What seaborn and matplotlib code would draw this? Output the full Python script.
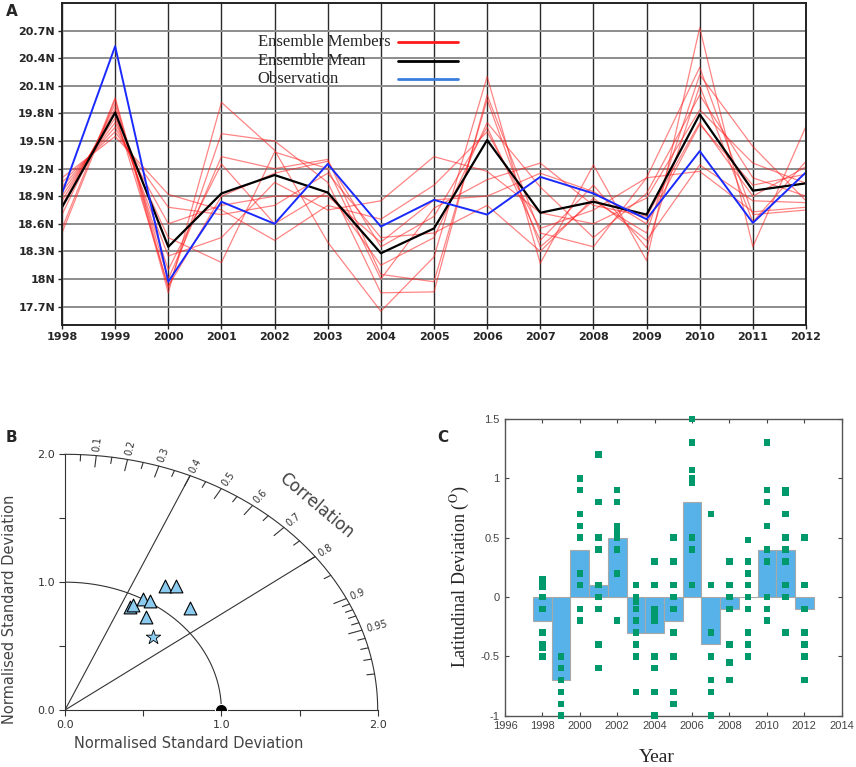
import numpy as np
import pandas as pd
import matplotlib
matplotlib.use("Agg")
import matplotlib.pyplot as plt
import seaborn as sns

sns.set_style("white")
plt.rcParams['font.family'] = ['DejaVu Sans']
plt.rcParams['mathtext.fontset'] = 'stix'

# ---------------- data: panel A (latitude of the track, deg N) ----------------
years = list(range(1998, 2013))
observation = [18.93, 20.53, 17.97, 18.84, 18.60, 19.25, 18.57, 18.86, 18.70, 19.11,
               18.93, 18.65, 19.39, 18.61, 19.16]
ensemble_mean = [18.78, 19.81, 18.35, 18.93, 19.13, 18.94, 18.28, 18.55, 19.51, 18.72,
                 18.84, 18.70, 19.79, 18.96, 19.04]
member_01 = [18.50, 19.95, 17.85, 19.92, 19.40, 18.40, 17.65, 18.24, 20.20, 18.17, 19.24, 18.20, 20.73, 18.35, 19.66]
member_02 = [18.55, 19.97, 17.90, 19.58, 19.50, 19.05, 17.85, 17.86, 20.00, 18.50, 18.35, 19.10, 20.30, 18.70, 18.75]
member_03 = [18.70, 19.90, 18.00, 19.33, 19.20, 19.30, 18.05, 17.97, 19.95, 18.35, 18.85, 18.50, 20.22, 19.44, 18.85]
member_04 = [18.80, 19.85, 18.10, 19.25, 18.60, 18.95, 18.15, 18.45, 19.70, 19.00, 18.45, 18.93, 20.00, 19.10, 18.90]
member_05 = [18.85, 19.80, 17.92, 18.90, 19.15, 19.28, 18.35, 18.68, 19.65, 18.42, 19.02, 18.34, 20.10, 18.62, 19.28]
member_06 = [18.90, 19.75, 18.25, 18.45, 19.05, 18.75, 18.85, 19.33, 19.17, 18.72, 18.60, 18.88, 19.84, 19.26, 19.04]
member_07 = [18.95, 19.70, 18.45, 18.18, 19.38, 19.20, 18.00, 18.77, 19.08, 19.26, 18.80, 18.68, 19.70, 18.90, 19.22]
member_08 = [19.00, 19.65, 18.60, 18.80, 18.90, 18.90, 18.40, 18.86, 18.90, 19.15, 18.95, 18.60, 19.68, 19.02, 19.14]
member_09 = [19.05, 19.60, 18.78, 18.70, 18.80, 19.15, 18.45, 18.50, 18.80, 18.30, 18.88, 18.42, 19.24, 18.85, 18.83]
member_10 = [19.10, 19.55, 18.92, 18.75, 18.42, 18.80, 18.65, 19.02, 19.60, 18.55, 18.75, 19.10, 19.17, 18.73, 18.78]
lat_ticks = [17.7, 18.0, 18.3, 18.6, 18.9, 19.2, 19.5, 19.8, 20.1, 20.4, 20.7]

# ---------------- data: panel B (Taylor diagram) ----------------
member_std = [0.91, 0.93, 1.00, 1.01, 1.16, 1.20, 1.13, 0.89]
member_corr = [0.46, 0.47, 0.50, 0.54, 0.55, 0.59, 0.71, 0.58]
mean_std = [0.80]
mean_corr = [0.70]
corr_major = [0.1, 0.2, 0.3, 0.4, 0.5, 0.6, 0.7, 0.8, 0.9, 0.95]
corr_minor = [0.05, 0.15, 0.25, 0.35, 0.45, 0.55, 0.65, 0.75, 0.85,
              0.91, 0.92, 0.93, 0.94, 0.96, 0.97, 0.98, 0.99]

# ---------------- data: panel C (latitudinal deviation, deg) ----------------
mean_dev = [-0.2, -0.7, 0.4, 0.1, 0.5, -0.3, -0.3, -0.2, 0.8, -0.4, -0.1, 0.0, 0.4, 0.4, -0.1]
member_dev = [
    [0.15, 0.12, 0.09, 0.0, -0.1, -0.3, -0.4, -0.43, -0.5],
    [-0.5, -0.6, -0.7, -0.8, -0.9, -1.0],
    [1.0, 0.9, 0.7, 0.6, 0.5, 0.2, 0.1, -0.1, -0.2],
    [1.2, 0.8, 0.5, 0.4, 0.1, 0.0, -0.1, -0.4, -0.6],
    [0.9, 0.8, 0.6, 0.55, 0.5, 0.4, 0.2, -0.2],
    [0.1, 0.0, -0.04, -0.1, -0.2, -0.3, -0.4, -0.5, -0.8],
    [0.3, 0.1, -0.1, -0.14, -0.17, -0.2, -0.5, -0.6, -0.8, -1.0],
    [0.5, 0.3, 0.1, 0.0, -0.1, -0.3, -0.5, -0.8, -0.9],
    [1.5, 1.3, 1.07, 1.0, 0.96, 0.5, 0.4, 0.1],
    [0.7, 0.1, -0.3, -0.5, -0.7, -0.8, -1.0],
    [0.3, 0.1, 0.0, -0.1, -0.4, -0.55, -0.7],
    [0.48, 0.3, 0.2, 0.1, 0.0, -0.1, -0.3, -0.4, -0.5],
    [1.3, 0.9, 0.8, 0.6, 0.4, 0.3, 0.0, -0.1, -0.2],
    [0.9, 0.88, 0.7, 0.5, 0.4, 0.3, 0.1, 0.0, -0.3],
    [0.5, 0.1, -0.1, -0.3, -0.4, -0.5, -0.7],
]

W, H = 856, 767
fig = plt.figure(figsize=(W / 100, H / 100), dpi=100)

# ======================= Panel A =======================
axA = fig.add_axes([62 / W, 1 - 325 / H, 744 / W, 322 / H])
members = [member_01, member_02, member_03, member_04, member_05,
           member_06, member_07, member_08, member_09, member_10]
df_members = pd.DataFrame({
    'year': years * len(members),
    'lat': np.concatenate(members),
    'member': np.repeat(np.arange(len(members)), len(years)),
})
sns.lineplot(data=df_members, x='year', y='lat', units='member', estimator=None,
             color='#ff2020', alpha=0.55, lw=0.9, ax=axA)
sns.lineplot(x=years, y=ensemble_mean, color='black', lw=1.6, ax=axA)
sns.lineplot(x=years, y=observation, color='#1a2aff', lw=1.4, ax=axA)

axA.set_xlim(1998, 2012)
axA.set_ylim(17.5, 21.0)
axA.set_xticks(years)
axA.set_yticks(lat_ticks)
axA.set_yticklabels([f'{t:g}N' for t in lat_ticks])
axA.set_axisbelow(True)
axA.grid(axis='x', color='#2a2a2a', lw=1.0)
axA.grid(axis='y', color='#8c8c8c', lw=1.4)
axA.tick_params(bottom=True, left=True, direction='out', length=3, width=1,
                labelsize=8, pad=2)
for lab in axA.get_xticklabels() + axA.get_yticklabels():
    lab.set_fontweight('bold')
axA.set_xlabel('')
axA.set_ylabel('')
for sp in axA.spines.values():
    sp.set_color('#222222')
    sp.set_linewidth(1.4)

# hand-made legend, text column left aligned, keys to the right
legend_items = [('Ensemble Members', '#ff1a1a'), ('Ensemble Mean', 'black'),
                ('Observation', '#3a7ddd')]
for i, (lab, col) in enumerate(legend_items):
    yy = 0.879 - i * 0.058
    axA.text(0.263, yy, lab, transform=axA.transAxes, family='Liberation Serif',
             fontsize=12, va='center', ha='left')
    axA.plot([0.452, 0.532], [yy, yy], transform=axA.transAxes, color=col, lw=2)
fig.text(6 / W, 1 - 11 / H, 'A', fontsize=11, fontweight='bold', va='center')

# ======================= Panel B: Taylor diagram =======================
axB = fig.add_axes([65 / W, 1 - 710 / H, 312.7 / W, 255.7 / H])
axB.set_xlim(0, 2)
axB.set_ylim(0, 2)
for s in ['top', 'right']:
    axB.spines[s].set_visible(False)
for s in ['left', 'bottom']:
    axB.spines[s].set_color('#333333')
    axB.spines[s].set_linewidth(0.8)
std_ticks = [0, 0.5, 1.0, 1.5, 2.0]
std_labels = ['0.0', '', '1.0', '', '2.0']
axB.set_xticks(std_ticks)
axB.set_xticklabels(std_labels)
axB.set_yticks(std_ticks)
axB.set_yticklabels(std_labels)
axB.tick_params(bottom=True, left=True, direction='out', length=4, width=0.8,
                labelsize=8, colors='#333333', pad=3)

theta = np.linspace(0, np.pi / 2, 200)
axB.plot(2 * np.cos(theta), 2 * np.sin(theta), color='#333333', lw=0.8, clip_on=False)
axB.plot(np.cos(theta), np.sin(theta), color='#333333', lw=0.8)
for c in [0.4, 0.8]:
    t = np.arccos(c)
    axB.plot([0, 2 * np.cos(t)], [0, 2 * np.sin(t)], color='#333333', lw=0.8)

# correlation ticks and labels along the outer arc
sx = 312.7 / 2
sy = 255.7 / 2
for c in corr_major + corr_minor:
    t = np.arccos(c)
    L = 0.09 if c in corr_major else 0.05
    axB.plot([(2 - L) * np.cos(t), 2 * np.cos(t)], [(2 - L) * np.sin(t), 2 * np.sin(t)],
             color='#333333', lw=0.8, clip_on=False)
for c in corr_major:
    t = np.arccos(c)
    rot = np.degrees(np.arctan2(sy * np.sin(t), sx * np.cos(t)))
    axB.text(2.03 * np.cos(t), 2.03 * np.sin(t), f'{c:g}', rotation=rot,
             rotation_mode='anchor', ha='left', va='center', fontsize=7,
             color='#333333', clip_on=False)
axB.text(1.61, 1.60, 'Correlation', rotation=-40, ha='center', va='center',
         fontsize=12, color='#444444', clip_on=False)

m_corr = np.array(member_corr)
m_std = np.array(member_std)
sns.scatterplot(x=m_std * m_corr, y=m_std * np.sqrt(1 - m_corr ** 2), marker='^',
                s=85, color='#8ccbf0', edgecolor='black', linewidth=0.8,
                clip_on=False, zorder=5, ax=axB)
e_corr = np.array(mean_corr)
e_std = np.array(mean_std)
sns.scatterplot(x=e_std * e_corr, y=e_std * np.sqrt(1 - e_corr ** 2), marker='*',
                s=120, color='#8ccbf0', edgecolor='black', linewidth=0.6,
                clip_on=False, zorder=5, ax=axB)
sns.scatterplot(x=[1.0], y=[0.0], marker='o', s=75, color='black', ax=axB, zorder=6)
axB.set_xlabel('')
axB.set_ylabel('')
fig.text(189 / W, 1 - 743 / H, 'Normalised Standard Deviation', fontsize=10.5,
         color='#444444', ha='center', va='center')
fig.text(10 / W, 1 - 609 / H, 'Normalised Standard Deviation', fontsize=10.5,
         color='#444444', ha='center', va='center', rotation=90)
fig.text(6 / W, 1 - 437 / H, 'B', fontsize=11, fontweight='bold', va='center')

# ======================= Panel C =======================
axC = fig.add_axes([505 / W, 1 - 715.7 / H, 336.7 / W, 296.7 / H])
sns.barplot(x=years, y=mean_dev, native_scale=True, width=1, color='#56b2e8',
            saturation=1, edgecolor='#a8a8a8', linewidth=0.8, ax=axC)
df_dev = pd.DataFrame({
    'year': np.repeat(years, [len(v) for v in member_dev]),
    'dev': np.concatenate(member_dev),
})
sns.scatterplot(data=df_dev, x='year', y='dev', marker='s', s=22, color='#00996b',
                edgecolor='none', clip_on=False, zorder=5, ax=axC)
axC.set_xlim(1996, 2014)
axC.set_ylim(-1, 1.5)
axC.set_xticks(list(range(1996, 2015, 2)))
axC.set_xticklabels([str(y) for y in range(1996, 2015, 2)])
dev_ticks = [-1, -0.5, 0, 0.5, 1, 1.5]
axC.set_yticks(dev_ticks)
axC.set_yticklabels([f'{t:g}' for t in dev_ticks])
axC.tick_params(bottom=True, left=True, top=True, right=True, direction='in',
                length=3, width=0.8, labelsize=8, colors='#444444', pad=4)
for lab in axC.get_xticklabels() + axC.get_yticklabels():
    lab.set_family('Liberation Sans')
for sp in axC.spines.values():
    sp.set_color('#555555')
    sp.set_linewidth(1.0)
axC.set_xlabel('')
axC.set_ylabel('')
fig.text(460 / W, 1 - 577 / H, r'Latitudinal Deviation ($^{\mathrm{O}}$)',
         family='Liberation Serif', fontsize=13, rotation=90, ha='center', va='center')
fig.text(657 / W, 1 - 758 / H, 'Year', family='Liberation Serif', fontsize=14,
         ha='center', va='center')
fig.text(437 / W, 1 - 437 / H, 'C', fontsize=11, fontweight='bold', va='center')

fig.savefig('out.png', dpi=100)
